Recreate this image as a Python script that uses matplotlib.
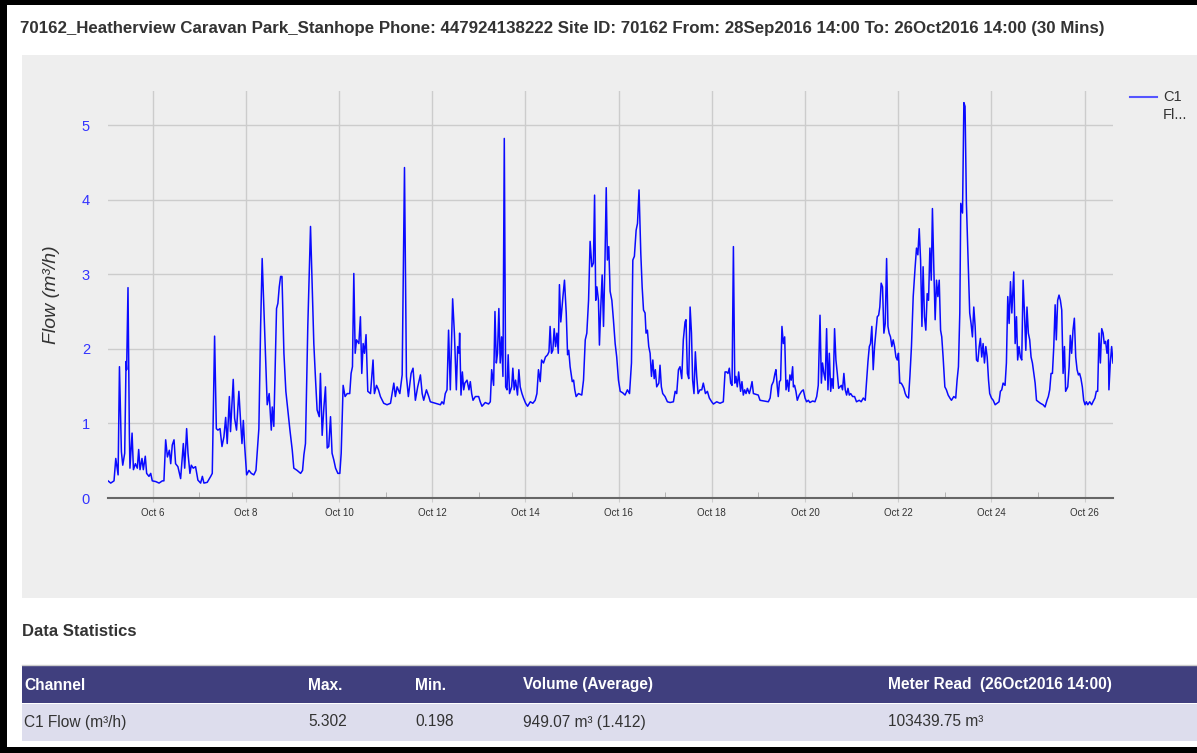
import numpy as np
import matplotlib
matplotlib.use('Agg')
import matplotlib.pyplot as plt
import matplotlib.dates as mdates
from matplotlib.patches import Rectangle
from matplotlib.lines import Line2D
from matplotlib.ticker import FuncFormatter

plt.rcParams['font.family'] = ['Liberation Sans', 'DejaVu Sans']

W, H = 1197, 753

title = ("70162_Heatherview Caravan Park_Stanhope Phone: 447924138222 Site ID: 70162 "
         "From: 28Sep2016 14:00 To: 26Oct2016 14:00 (30 Mins)")

# hours since 05 Oct 2016 00:00
hours = [
    1.0, 2.4, 4.1, 5.0, 6.2, 6.9, 7.9, 8.6, 9.6, 10.3, 10.6, 11.3, 12.0, 12.3, 13.4, 14.1,
    15.1, 16.1, 16.8, 17.5, 18.5, 19.2, 20.2, 20.9, 22.1, 23.0, 23.8, 25.6, 27.3, 29.0, 29.8,
    30.7, 31.6, 32.6, 33.3, 34.1, 35.0, 35.8, 37.0, 38.4, 39.8, 40.5, 41.5, 42.2, 43.2, 43.9,
    44.9, 46.1, 47.3, 48.7, 49.6, 50.4, 52.1, 53.9, 54.7, 55.9, 56.8, 57.6, 58.7, 59.7, 60.7,
    61.6, 62.4, 63.5, 64.1, 65.5, 66.2, 67.2, 68.4, 69.3, 70.0, 70.7, 71.3, 72.4, 73.6, 74.8,
    76.1, 77.2, 78.7, 79.6, 80.4, 81.6, 83.0, 84.0, 85.1, 85.6, 86.4, 87.3, 87.8, 88.5, 89.2,
    89.9, 90.6, 91.6, 92.6, 93.6, 94.7, 95.9, 96.7, 98.4, 100.2, 101.2, 101.9, 102.7, 103.9,
    105.3, 106.2, 107.0, 107.9, 108.7, 109.8, 110.4, 111.3, 112.2, 113.0, 113.9, 114.7, 115.6,
    116.4, 117.3, 118.2, 119.4, 120.4, 121.1, 122.1, 123.1, 124.2, 125.5, 126.2, 126.9, 127.6,
    128.3, 129.0, 130.2, 131.0, 131.7, 132.4, 133.1, 133.9, 134.8, 136.2, 137.5, 138.2, 139.3,
    140.3, 141.3, 143.0, 144.7, 146.5, 148.2, 149.0, 149.9, 151.3, 152.5, 153.7, 154.7, 155.7,
    157.1, 158.1, 159.3, 160.5, 161.9, 162.8, 163.6, 165.0, 166.2,
    167.0, 172.2, 173.0, 173.9, 174.7, 175.6, 176.4, 177.3, 178.5, 179.4, 180.4, 181.1, 181.8,
    182.1, 182.8, 183.5, 184.2, 184.8, 185.9, 186.9, 187.6, 188.3, 189.0, 190.2, 191.9, 192.7,
    193.6, 195.3, 197.0, 197.9, 198.6, 199.6, 200.3, 201.0, 201.6, 202.3, 203.0, 203.7, 204.4,
    205.1, 205.8, 206.5, 207.1, 207.8, 208.9, 209.5, 210.2, 210.9, 211.9, 212.6, 213.3, 214.2,
    215.0, 216.1, 217.1, 218.5, 219.8, 221.0, 221.9, 222.7, 223.6, 224.3, 225.3, 226.3, 227.4,
    228.1, 228.7, 229.4, 230.1, 230.8, 231.5, 232.2, 232.9, 233.5, 234.2, 235.3, 236.1, 237.0,
    237.7, 238.3, 239.0, 240.1, 240.8, 241.4, 242.1, 243.3, 245.0, 245.9, 246.8, 247.6, 248.5,
    249.3, 250.2, 251.0, 251.6, 252.2, 252.8, 253.6, 254.1, 254.8, 255.5, 256.2, 256.9, 257.6,
    258.2, 258.9, 259.6, 260.5, 261.3, 262.2, 263.0, 263.9, 264.8, 266.1, 267.3, 268.5, 269.6,
    270.6, 271.3, 272.1, 273.0, 273.7, 274.5, 275.4, 276.1, 276.8, 277.6, 278.1, 278.8, 279.5,
    280.2, 280.9, 281.6, 282.3, 282.9, 283.6, 284.7, 285.3, 286.0, 286.7, 287.9, 289.1, 290.5,
    292.2, 293.1, 293.9, 294.8, 295.6, 296.5, 297.3, 298.2, 298.7, 299.4, 300.1, 300.8, 301.5,
    302.1, 302.8, 303.5, 304.2, 304.9, 305.9, 306.8, 307.6, 308.7, 309.7, 310.7, 311.9, 312.8,
    314.5, 316.2, 317.9, 318.8, 319.6, 320.3, 321.0, 321.7, 322.4, 323.1, 323.8, 324.4, 325.1,
    325.8, 326.8, 327.5, 328.2, 328.9, 329.6, 330.3, 331.3, 332.0, 332.7, 333.4, 334.7, 335.9,
    336.8, 341.1, 342.0, 342.8, 343.7, 344.5, 345.0, 345.7, 346.2, 346.8, 347.4, 348.1, 348.8,
    349.5, 350.2, 350.9, 351.6, 352.2, 352.9, 353.6, 354.0, 354.6, 355.3, 356.0, 357.0, 358.2,
    359.1, 360.0, 360.8, 361.7, 362.5, 363.9, 365.1, 366.0, 366.8, 367.7, 368.4, 369.0, 369.7,
    370.4, 371.1, 371.8, 372.5, 373.2, 373.8, 374.5, 375.2, 375.9, 376.6, 377.3, 378.0, 378.7,
    379.3, 380.0, 380.7, 381.4, 382.1, 382.8, 383.5, 384.5, 385.5, 386.5, 387.9, 388.9, 390.0,
    391.0, 391.7, 392.4, 393.1, 393.7, 394.4, 395.1, 395.8, 396.5, 397.2, 397.9, 398.5, 399.2,
    399.9, 400.6, 401.3, 402.0, 402.7, 403.3, 404.0, 404.7, 405.4, 406.1, 406.8, 407.5, 408.1,
    408.8, 409.5, 410.2, 410.9, 411.6, 412.3, 413.3, 414.0, 414.8, 415.7, 416.6, 417.4, 418.1,
    418.8, 419.5, 420.2, 420.8, 421.5, 422.2, 422.9, 423.6, 424.3, 425.0, 425.6, 426.3, 427.0,
    427.7, 428.4, 429.1, 429.8, 430.4, 431.1, 432.0, 432.8, 433.7, 434.6, 435.4, 436.6, 437.6,
    438.3, 439.0, 439.7, 440.2, 441.1, 441.8, 442.4, 443.1, 444.0, 444.8, 445.5, 446.2, 446.9,
    447.6, 448.3, 449.0, 449.7, 450.3, 451.0, 451.7, 452.4, 453.1, 453.8, 454.5, 455.1, 456.0,
    456.9, 457.9, 458.9, 459.9, 460.6, 461.3, 462.0, 463.0, 463.7, 464.4, 465.1, 465.8, 466.5,
    467.5, 468.2, 468.9, 469.5, 470.2, 470.9, 471.6, 472.3, 473.0, 473.7, 474.3, 475.0, 475.7,
    476.4, 477.1, 477.8, 478.5, 479.2, 480.2, 481.2, 482.6, 483.6, 484.6, 485.3, 486.0, 486.7,
    487.4, 488.1, 488.8, 489.4, 490.1, 490.8, 491.5, 492.2, 492.9, 493.6, 494.2, 495.3, 496.0,
    496.6, 497.3, 498.0, 498.7, 499.4, 500.1, 500.8, 501.4, 502.1, 502.8, 503.5, 504.2, 504.9,
    505.6, 506.6, 507.6, 508.3, 509.3, 510.0, 510.7, 511.4, 512.1, 512.8, 513.5, 514.1, 514.8,
    515.5, 516.2, 516.5, 517.2, 517.9, 518.6,
]

# flow in m3/h
flow = [
    0.23, 0.20, 0.23, 0.53, 0.31, 1.76, 0.62, 0.44, 0.60, 1.83, 1.72, 2.82, 0.87, 0.40, 0.87, 0.38,
    0.46, 0.40, 0.65, 0.38, 0.53, 0.38, 0.56, 0.33, 0.29, 0.33, 0.23, 0.22, 0.20, 0.23, 0.23,
    0.78, 0.55, 0.64, 0.46, 0.71, 0.78, 0.46, 0.42, 0.26, 0.73, 0.40, 0.93, 0.60, 0.33, 0.44,
    0.40, 0.42, 0.24, 0.20, 0.29, 0.20, 0.21, 0.29, 0.33, 2.17, 0.93, 0.91, 0.93, 0.69, 0.82,
    1.08, 0.73, 1.36, 0.89, 1.59, 1.07, 0.91, 1.43, 1.02, 0.73, 1.04, 0.73, 0.31, 0.37, 0.33,
    0.31, 0.37, 0.93, 2.30, 3.21, 2.30, 1.25, 1.40, 0.91, 1.22, 0.96, 1.98, 2.54, 2.61, 2.83,
    2.97, 2.97, 1.94, 1.43, 1.18, 0.91, 0.64, 0.40, 0.37, 0.33, 0.37, 0.58, 0.73, 2.30,
    3.64, 2.79, 2.07, 1.58, 1.18, 1.09, 1.67, 0.84, 1.22, 1.49, 0.67, 0.69, 1.09,
    0.60, 0.51, 0.40, 0.33, 0.33, 0.60, 1.51, 1.36, 1.40, 1.40, 1.67, 1.76, 3.01,
    1.94, 2.12, 2.07, 2.43, 1.67, 2.07, 1.94, 2.19, 1.43, 1.40, 1.85, 1.40, 1.51,
    1.45, 1.36, 1.27, 1.25, 1.27, 1.54, 1.36, 1.49, 1.40, 1.65, 4.43, 1.63, 1.36,
    1.67, 1.74, 1.31, 1.49, 1.65, 1.40, 1.31, 1.45, 1.36,
    1.29, 1.25, 1.29, 1.26, 1.40, 1.45, 2.25, 1.45, 2.67, 2.21, 1.45, 2.03, 1.94,
    2.21, 1.38, 1.69, 1.45, 1.54, 1.58, 1.45, 1.56, 1.40, 1.31, 1.36, 1.36, 1.29,
    1.23, 1.28, 1.26, 1.29, 1.72, 1.51, 2.50, 1.81, 1.94, 2.54, 1.81, 2.16, 1.63,
    4.82, 1.49, 1.45, 1.92, 1.40, 1.49, 1.74, 1.45, 1.58, 1.38, 1.72, 1.49, 1.40,
    1.34, 1.27, 1.23, 1.29, 1.27, 1.31, 1.40, 1.72, 1.56, 1.85, 1.81, 1.89, 1.92,
    1.96, 2.30, 1.94, 1.98, 2.27, 2.03, 2.21, 1.94, 2.86, 2.36, 2.70, 2.92, 2.48,
    1.92, 1.98, 1.76, 1.56, 1.58, 1.45, 1.36, 1.40, 1.38, 1.58, 2.12, 2.21, 2.65,
    3.44, 3.10, 3.15, 4.06, 2.65, 2.83, 2.65, 2.05, 2.56, 2.99, 2.30, 3.10, 4.16,
    3.19, 3.37, 2.77, 2.65, 2.39, 2.07, 1.89, 1.58, 1.43, 1.41, 1.38, 1.45, 1.40,
    1.81, 3.19, 3.24, 3.59, 3.68, 4.13, 3.28, 2.83, 2.52, 2.48, 2.21, 2.25, 2.03,
    1.94, 1.63, 1.85, 1.60, 1.72, 1.49, 1.54, 1.78, 1.49, 1.40, 1.36, 1.29, 1.28,
    1.29, 1.43, 1.40, 1.72, 1.76, 1.60, 2.12, 2.36, 2.39, 1.67, 1.60, 2.56, 2.21,
    1.58, 1.40, 1.96, 1.63, 1.40, 1.45, 1.45, 1.54, 1.40, 1.43, 1.34, 1.29, 1.26,
    1.29, 1.27, 1.29, 1.69, 1.69, 1.67, 1.74, 1.54, 1.51, 3.37, 1.54, 1.63, 1.49,
    1.69, 1.43, 1.56, 1.38, 1.45, 1.40, 1.47, 1.40, 1.47, 1.56, 1.40, 1.39, 1.38,
    1.31, 1.29, 1.34, 1.51, 1.56, 1.67, 1.72, 1.49, 1.36, 1.56, 1.58, 2.30, 2.07,
    2.16, 1.45, 1.58, 1.43, 1.65, 1.58, 1.76, 1.49, 1.51, 1.43, 1.31, 1.38, 1.43,
    1.45, 1.34, 1.29, 1.31, 1.28, 1.30, 1.29, 1.36, 1.51, 2.45, 1.54, 1.81, 1.67,
    1.58, 2.27, 1.45, 1.94, 1.43, 1.60, 1.47, 2.27, 1.85, 1.67, 1.47, 1.49, 1.51,
    1.45, 1.67, 1.45, 1.38, 1.47, 1.38, 1.40, 1.36, 1.36, 1.29, 1.31, 1.29, 1.34,
    1.31, 1.58, 1.83, 2.03, 2.07, 2.30, 1.72, 2.03, 2.23, 2.43, 2.45, 2.56, 2.88,
    2.83, 2.21, 2.34, 3.21, 2.30, 2.21, 2.16, 2.03, 2.12, 2.03, 1.89, 1.85, 1.94,
    1.54, 1.54, 1.51, 1.47, 1.40, 1.36, 1.34, 1.63, 2.03, 2.70, 3.06, 3.35, 3.26,
    3.61, 3.19, 2.30, 3.10, 2.43, 2.25, 2.74, 2.65, 3.35, 2.92, 3.88, 3.10, 2.39,
    2.92, 2.70, 2.92, 2.25, 2.16, 1.89, 1.49, 1.45, 1.38, 1.34, 1.31, 1.36, 1.34,
    1.58, 1.76, 2.48, 3.95, 3.82, 5.30, 5.25, 3.95, 3.15, 2.48, 2.34, 2.16, 2.56,
    2.30, 1.85, 1.83, 2.03, 2.14, 1.89, 2.07, 1.81, 2.03, 1.89, 1.58, 1.40, 1.34,
    1.31, 1.25, 1.27, 1.29, 1.43, 1.45, 1.54, 1.51, 1.81, 2.70, 2.34, 2.90, 2.48,
    3.03, 2.07, 2.43, 1.85, 2.03, 1.89, 1.85, 2.92, 2.48, 1.98, 2.56, 2.21, 2.12,
    1.89, 1.81, 1.67, 1.54, 1.31, 1.29, 1.27, 1.25, 1.22, 1.31, 1.36, 1.45, 1.67,
    1.67, 2.03, 2.59, 2.12, 2.65, 2.72, 2.65, 2.52, 1.67, 2.03, 1.43, 1.49, 1.76,
    2.18, 1.94, 2.25, 2.41, 1.89, 1.72, 1.65, 1.67, 1.60, 1.49, 1.31, 1.25, 1.29,
    1.25, 1.29, 1.25, 1.29, 1.34, 1.43, 1.43, 2.21, 1.81, 2.27, 2.21, 2.07, 2.10,
    1.94, 2.12, 1.45, 1.81, 2.03, 1.81,
]

y_ticks = [0, 1, 2, 3, 4, 5]
series_name = "C1\nFl..."

stats_cols = ["Channel", "Max.", "Min.", "Volume (Average)", "Meter Read  (26Oct2016 14:00)"]
stats_row = ["C1 Flow (m³/h)", "5.302", "0.198", "949.07 m³ (1.412)", "103439.75 m³"]

start = np.datetime64('2016-10-05T00:00')
times = start + (np.array(hours) * 60).round().astype('int64').astype('timedelta64[m]')


def fx(px):
    return px / W


def fy(py):
    return 1 - py / H


def box(x0, y0, x1, y1, color, z=0):
    fig.add_artist(Rectangle((fx(x0), fy(y1)), (x1 - x0) / W, (y1 - y0) / H,
                             transform=fig.transFigure, facecolor=color,
                             edgecolor='none', zorder=z))


fig = plt.figure(figsize=(W / 100, H / 100), dpi=100)
fig.patch.set_facecolor('white')

# grey chart panel
box(22, 55, W, 598, '#eeeeee', z=-5)

ax = fig.add_axes([fx(108), fy(498), (1113 - 108) / W, (498 - 91) / H])
ax.set_facecolor('none')
ax.plot(times, flow, color='#0a0aff', lw=1.1)

ax.set_ylim(0, 5.456)
ax.set_xlim(times[0], times[-1])
ax.set_yticks(y_ticks)
ax.tick_params(axis='y', length=0, pad=13, labelsize=10.5, labelcolor='#3333ff')

ax.xaxis.set_major_locator(mdates.DayLocator(bymonthday=range(6, 27, 2)))
ax.xaxis.set_minor_locator(mdates.DayLocator(bymonthday=range(5, 27, 2)))
ax.xaxis.set_major_formatter(FuncFormatter(lambda v, p: 'Oct %d' % mdates.num2date(v).day))
ax.tick_params(axis='x', which='major', length=3, color='#cccccc', pad=4,
               labelsize=7, labelcolor='#333333')
ax.tick_params(axis='x', which='minor', length=4, direction='in', color='#aaaaaa')

ax.grid(axis='y', color='#cccccc', lw=1)
ax.grid(axis='x', which='major', color='#cccccc', lw=1)
ax.set_axisbelow(True)
for s in ['top', 'right', 'left']:
    ax.spines[s].set_visible(False)
ax.spines['bottom'].set_color('#666666')
ax.spines['bottom'].set_linewidth(1.5)

fig.text(fx(52), fy(295), 'Flow (m³/h)', rotation=90, ha='center', va='center',
         fontsize=14, style='italic', color='#333333')

# legend
fig.add_artist(Line2D([fx(1130), fx(1157)], [fy(97), fy(97)], transform=fig.transFigure,
                      color='#5555ff', lw=1.5))
fig.text(fx(1163), fy(106), series_name, ha='left', va='center', fontsize=10.5,
         color='#333333', linespacing=1.3)

fig.text(fx(20), fy(28), title, ha='left', va='center', fontsize=12.2,
         weight='bold', color='#333333')

fig.text(fx(22), fy(632), 'Data Statistics', ha='left', va='center', fontsize=12,
         weight='bold', color='#333333')

# statistics table
col_x = [24, 308, 415, 523, 888]
fig.add_artist(Line2D([fx(22), fx(W)], [fy(665), fy(665)], transform=fig.transFigure,
                      color='#cccccc', lw=1))
box(22, 666, W, 703, '#403f7e')
box(22, 704, W, 741, '#dddded')
for x, h, v in zip(col_x, stats_cols, stats_row):
    fig.text(fx(x), fy(685), h, ha='left', va='center', fontsize=11.2,
             weight='bold', color='white')
    fig.text(fx(x), fy(722), v, ha='left', va='center', fontsize=11.2, color='#333333')

# black frame
box(0, 0, W, 5, 'black', z=10)
box(0, 0, 7, H, 'black', z=10)
box(0, 747, W, H, 'black', z=10)

fig.savefig('out.png', dpi=100)
